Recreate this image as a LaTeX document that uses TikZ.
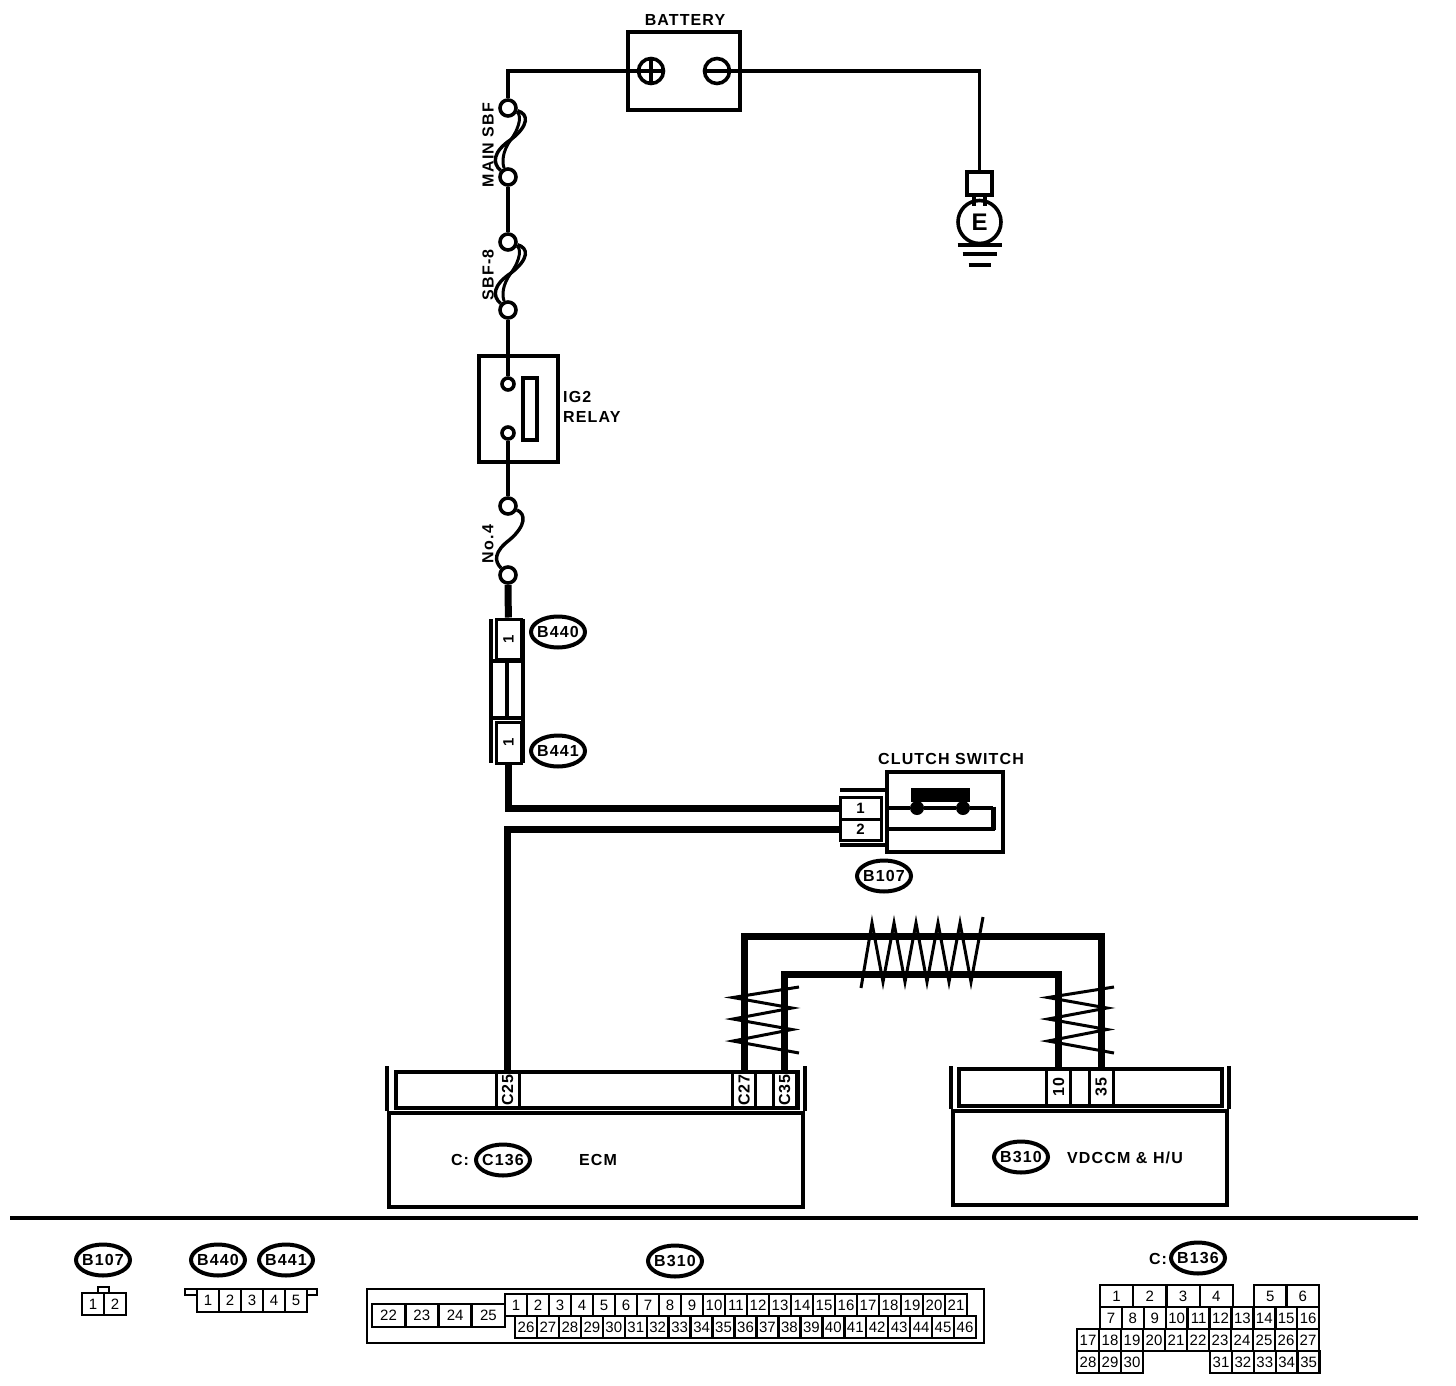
\documentclass[tikz,border=0pt]{standalone}
\usepackage{fontspec}
\usepackage{tikz}
\usetikzlibrary{calc}
\usetikzlibrary{shapes.geometric}
\setmainfont[LetterSpace=7]{Liberation Sans}
\newfontfamily\cellfont{Liberation Sans}
\tikzset{
    wiring diagram/.style={
            x=1pt,y=-1pt,
            wire/.style={line width=3.4pt},
            harness/.style={line width=7pt},
            twist/.style={line width=3pt,miter limit=10},
            framebox/.style={draw,line width=3.6pt,minimum width=##1,inner sep=0pt},
            terminal/.style={circle,draw,line width=3.6pt,minimum size=##1,inner sep=0pt},
            tag/.style={font=\fontsize{16}{20}\selectfont\bfseries,inner sep=0pt},
            connid/.style={ellipse,draw,line width=4pt,minimum width=54pt,minimum height=31pt,
                    inner xsep=-4pt,inner ysep=0pt,font=\fontsize{16}{18}\selectfont\bfseries},
            pincell/.style={draw,line width=2.4pt,inner sep=0pt,minimum width=22pt,minimum height=22pt,
                    font=\fontsize{15}{17}\cellfont},
            headcell/.style={draw,line width=3pt,inner sep=0pt,rotate=90,minimum width=36pt,minimum height=23pt,
                    font=\fontsize{16}{18}\selectfont\bfseries}
        }
    }

\begin{document}
\begin{tikzpicture}[wiring diagram]
    \useasboundingbox[fill=white] (0,0) rectangle (1456,1386);

    \node [framebox=112pt, minimum height=78pt] (battery) at (684,71) {};
    \node [tag] (batterytxt) at (685,20) {BATTERY};
    \node [terminal=25pt] (plus) at (651,71) {};
    \node [terminal=25pt] (minus) at (717,71) {};
    \draw [line width=4pt] (plus.north) -- (plus.south);
    \draw [line width=4pt] (plus.west) -- (plus.east);
    \draw [line width=4pt] (minus.west) -- (minus.east);

    \node [framebox=25pt, minimum height=23pt] (gndbox) at (979.5,183.5) {};
    \node [terminal=43pt, font=\fontsize{24}{26}\selectfont\bfseries] (earth) at (979.5,222) {E};
    \draw [wire] (minus) -| (gndbox);
    \draw [wire] ($(gndbox.south)+(-5.5,0)$) -- +(0,9);
    \draw [wire] ($(gndbox.south)+(5.5,0)$) -- +(0,9);
    \foreach \barw/\bary in {44/245,34/254,22/265} {
        \draw [wire] (979.5-\barw/2,\bary) -- +(\barw,0);
    }

    \node [terminal=16pt] (mainTop) at (508,108) {};
    \node [terminal=16pt] (mainBot) at (508,177) {};
    \node [terminal=16pt] (sbfTop) at (508,242) {};
    \node [terminal=16pt] (sbfBot) at (508,310) {};
    \node [terminal=16pt] (noTop) at (508,506) {};
    \node [terminal=16pt] (noBot) at (508,575) {};
    \node [tag, rotate=90] (mainlbl) at (488,145) {MAIN SBF};
    \node [tag, rotate=90] (sbflbl) at (488,275) {SBF-8};
    \node [tag, rotate=90] (nolbl) at (488,544) {No.4};

    \draw [wire] (plus) -| (mainTop);
    \draw [wire] (mainBot) -- (sbfTop);
    \foreach \fa/\fb in {mainTop/mainBot,sbfTop/sbfBot} {
        \coordinate (fm) at ($(\fa)!0.5!(\fb)+(3,-3)$);
        \draw [wire] (\fa) .. controls +(21,6) and +(18,-14) .. (fm)
            .. controls +(-18,12) and +(-16,-14) .. (\fb);
        \draw [line width=3pt] (\fa) .. controls +(13,6) and +(10,-14) .. (fm)
            .. controls +(-9,12) and +(-6,-14) .. (\fb);
    }
    \coordinate (nm) at ($(noTop)!0.5!(noBot)+(2,-1)$);
    \draw [wire] (noTop) .. controls +(18,8) and +(16,-14) .. (nm)
        .. controls +(-16,12) and +(-14,-14) .. (noBot);

    \node [framebox=79pt, minimum height=106pt] (relay) at (518.5,409) {};
    \node [terminal=12pt] (relayA) at (508,384) {};
    \node [terminal=12pt] (relayB) at (508,433) {};
    \node [framebox=14pt, minimum height=62pt] (coil) at (530,409) {};
    \node [tag, align=left, anchor=west] (relaytxt) at (563,407) {IG2\\RELAY};
    \draw [wire] (sbfBot) -- (relayA);
    \draw [wire] (relayB) -- (noTop);

    \node [draw, line width=3pt, rotate=90, minimum width=40pt, minimum height=25pt, inner sep=0pt,
        font=\fontsize{15}{17}\selectfont\bfseries] (b440pin) at (508.5,639) {1};
    \node [draw, line width=3pt, rotate=90, minimum width=41pt, minimum height=25pt, inner sep=0pt,
        font=\fontsize{15}{17}\selectfont\bfseries] (b441pin) at (508.5,742.5) {1};
    \node [connid] (b440) at (558,632) {B440};
    \node [connid] (b441) at (558,751) {B441};
    \draw [line width=4pt] (491,619) -- (491,763);
    \draw [line width=4pt] (523,619) -- (523,763);
    \draw [line width=4pt] (491,661) -- (523,661);
    \draw [line width=4pt] (491,718) -- (523,718);
    \draw [wire] (507,661) -- (507,718);

    \node [framebox=116pt, minimum height=80pt] (clutch) at (945,812) {};
    \node [tag] (clutchtxt) at (951,759) {CLUTCH SWITCH};
    \node [draw, line width=3pt, inner sep=0pt, minimum width=41pt, minimum height=22pt,
        font=\fontsize{15}{17}\selectfont\bfseries] (clutchA) at (860.5,808) {1};
    \node [draw, line width=3pt, inner sep=0pt, minimum width=41pt, minimum height=21pt,
        font=\fontsize{15}{17}\selectfont\bfseries] (clutchB) at (860.5,829.5) {2};
    \draw [wire] (840,790) -- (887,790);
    \draw [wire] (840,845) -- (887,845);
    \node [fill=black, inner sep=0pt, minimum width=59pt, minimum height=14pt] (bridge) at (940.5,795) {};
    \node [circle, fill=black, inner sep=0pt, minimum size=14pt] (contA) at (917,808) {};
    \node [circle, fill=black, inner sep=0pt, minimum size=14pt] (contB) at (963,808) {};
    \draw [wire] (clutch.west |- contA) -- (contA) -- (contB) -- (993,808);
    \draw [line width=5pt] (993,806.5) -- (993,830);
    \draw [wire] (995,829) -- (887,829);
    \node [connid] (b107) at (884,876) {B107};

    \node [draw, line width=4pt, inner sep=0pt, minimum width=414pt, minimum height=94pt] (ecm) at (596,1160) {};
    \draw [line width=4pt] (ecm.north west) -- +(0,-45);
    \draw [line width=4pt] (ecm.north east) -- +(0,-45);
    \node [draw, line width=4pt, inner sep=0pt, minimum width=402pt, minimum height=36pt] (ecmhead) at (597,1090) {};
    \node [headcell] (c25) at (507.5,1090) {C25};
    \node [headcell] (c27) at (744,1090) {C27};
    \node [headcell] (c35) at (784.5,1090) {C35};
    \node [tag] (ctxt) at (460,1160) {C:};
    \node [connid] (c136) at (503,1160) {C136};
    \node [tag] (ecmtxt) at (598,1160) {ECM};

    \node [draw, line width=4pt, inner sep=0pt, minimum width=274pt, minimum height=94pt] (vdc) at (1090,1158) {};
    \draw [line width=4pt] (vdc.north west) -- +(0,-43);
    \draw [line width=4pt] (vdc.north east) -- +(0,-43);
    \node [draw, line width=4pt, inner sep=0pt, minimum width=263pt, minimum height=37pt] (vdchead) at (1090.5,1087) {};
    \node [headcell, minimum height=24pt] (p10) at (1058.5,1087) {10};
    \node [headcell, minimum height=24pt] (p35) at (1101,1087) {35};
    \node [connid] (b310) at (1021,1157) {B310};
    \node [tag] (vdctxt) at (1125,1158) {VDCCM \& H/U};

    \coordinate (outerTop) at (923,936);
    \coordinate (innerTop) at (923,974);
    \draw [harness] (noBot) -- (b440pin);
    \draw [harness] (b441pin) |- (clutchA);
    \draw [harness] (clutchB) -| (c25);
    \draw [harness] (c27) |- (outerTop) -| (p35);
    \draw [harness] (c35) |- (innerTop) -| (p10);

    \draw [twist] (861,988) -- (872,923) \foreach \i in {1,...,4} { -- ++(11,59) -- ++(11,-59) } -- ++(11,59) -- (983,917);
    \draw [twist] (799,987) -- (733,997.5) -- (792,1008) -- (733,1019) -- (792,1029.5) -- (733,1041) -- (799,1053);
    \draw [twist] (1114,987) -- (1048,997.5) -- (1107,1008) -- (1048,1019) -- (1107,1029.5) -- (1048,1041) -- (1114,1053);

    \coordinate (ruleL) at (10,1218);
    \coordinate (ruleR) at (1418,1218);
    \draw [wire] (ruleL) -- (ruleR);

    \node [connid] (b107k) at (103,1260) {B107};
    \node [connid] (b440k) at (218,1260) {B440};
    \node [connid] (b441k) at (286,1260) {B441};
    \node [connid] (b310k) at (675,1261) {B310};
    \node [tag] (ckey) at (1158,1259) {C:};
    \node [connid] (b136k) at (1198,1258) {B136};

    \draw [line width=2.4pt] (98,1293) -- (98,1287) -- (109,1287) -- (109,1293);
    \foreach \n [count=\i from 0] in {1,2} {
        \node [pincell, minimum height=22pt] (kb107\n) at ({93+22*\i},1304) {\n};
    }

    \draw [line width=2.4pt] (197,1289) -- (185,1289) -- (185,1295) -- (197,1295);
    \draw [line width=2.4pt] (307,1289) -- (317,1289) -- (317,1295) -- (307,1295);
    \foreach \n [count=\i from 0] in {1,...,5} {
        \node [pincell, minimum height=23pt] (kb440\n) at ({208+22*\i},1300.5) {\n};
    }

    \node [draw, line width=2.4pt, inner sep=0pt, minimum width=617pt, minimum height=54pt] (b310shell) at (675.5,1316) {};
    \foreach \n [count=\i from 0] in {22,...,25} {
        \node [pincell, minimum width=33pt, minimum height=23pt] (kb310\n) at ({388.5+33.3*\i},1315.5) {\n};
    }
    \foreach \n [count=\i from 0] in {1,...,21} {
        \node [pincell] (kb310\n) at ({516+22*\i},1305) {\n};
    }
    \foreach \n [count=\i from 0] in {26,...,46} {
        \node [pincell] (kb310\n) at ({526+21.95*\i},1327) {\n};
    }

    \foreach \n [count=\i from 0] in {1,...,4} {
        \node [pincell, minimum width=33.25pt] (kb136\n) at ({1116.6+33.25*\i},1296) {\n};
    }
    \foreach \n [count=\i from 0] in {5,6} {
        \node [pincell, minimum width=32.5pt] (kb136\n) at ({1270.2+32.5*\i},1296) {\n};
    }
    \foreach \n [count=\i from 0] in {7,...,16} {
        \node [pincell] (kb136\n) at ({1111+21.9*\i},1318) {\n};
    }
    \foreach \n [count=\i from 0] in {17,...,27} {
        \node [pincell] (kb136\n) at ({1088+22*\i},1340) {\n};
    }
    \foreach \n [count=\i from 0] in {28,29,30} {
        \node [pincell] (kb136\n) at ({1088+22*\i},1362) {\n};
    }
    \foreach \n [count=\i from 0] in {31,...,35} {
        \node [pincell] (kb136\n) at ({1221+21.9*\i},1362) {\n};
    }
\end{tikzpicture}
\end{document}
